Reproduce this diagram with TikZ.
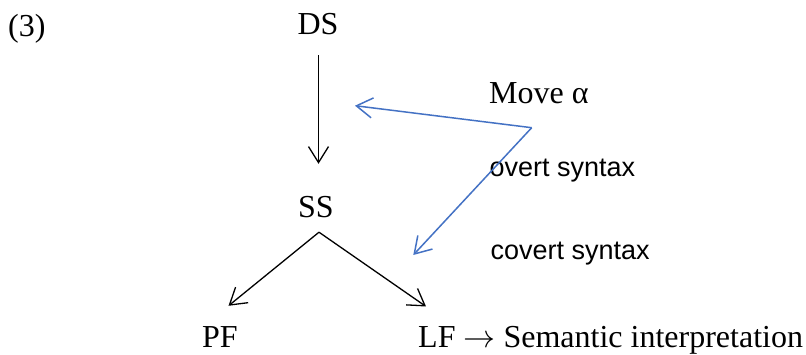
\RequirePackage{fix-cm}
\documentclass[tikz,border=0pt]{standalone}
\usepackage{fontspec}
\setmainfont{Liberation Serif}
\setsansfont{Liberation Sans}
\usetikzlibrary{arrows.meta}
\definecolor{moveblue}{RGB}{68,114,196}
\begin{document}
\begin{tikzpicture}[x=1pt,y=-1pt,
  lbl/.style={inner sep=0pt,font=\fontsize{32}{38}\selectfont,text height=22pt,text depth=0pt},
  sans/.style={inner sep=0pt,font=\sffamily\fontsize{27}{32}\selectfont,text height=19pt,text depth=0pt},
  blk/.style={line width=1.3pt,-{Straight Barb[length=16pt,width=20pt,line width=1.3pt]}},
  blu/.style={draw=moveblue,line width=1.5pt,-{Straight Barb[length=16pt,width=20pt,line width=1.5pt]}}]
\useasboundingbox (0,0) rectangle (806,355);
\node[lbl,anchor=base west] (num) at (8,36.7) {(3)};
\node[lbl,anchor=base] (DS) at (318,35) {DS};
\node[lbl,anchor=base] (SS) at (316,218) {SS};
\node[lbl,anchor=base] (PF) at (220,348) {PF};
\node[lbl,anchor=base west] (LF) at (418,348) {LF $\rightarrow$ Semantic interpretation};
\node[lbl,anchor=base west] (move) at (489,104) {Move α};
\node[sans,anchor=base west] (overt) at (489.5,176.7) {overt syntax};
\node[sans,anchor=base west] (covert) at (490.5,259.3) {covert syntax};
\coordinate (bend) at (531.7,127.7);
\coordinate (tipA) at (355,105.7);
\coordinate (tipB) at (413.3,255);
% black arrows
\draw[blk] ([xshift=0.5pt,yshift=-20pt]DS.south) -- ([xshift=2.5pt,yshift=32pt]SS.north);
\draw[blk] ([xshift=3pt,yshift=-14pt]SS.south) -- ([xshift=8.5pt,yshift=20pt]PF.north);
\draw[blk] ([xshift=3pt,yshift=-14pt]SS.south) -- ([xshift=8pt,yshift=19.3pt]LF.north west);
% blue movement arrows
\draw[blu] (bend) -- (tipA);
\draw[blu] (bend) -- (tipB);
\end{tikzpicture}
\end{document}
